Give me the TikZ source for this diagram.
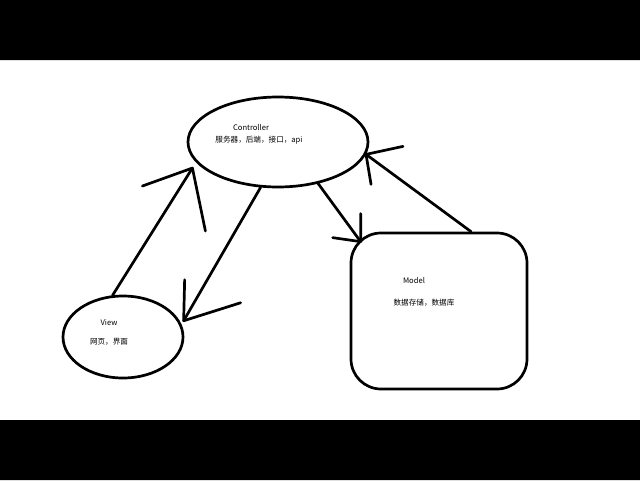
\documentclass[tikz,border=0pt]{standalone}
\usepackage{fontspec}
\setmainfont{Noto Sans CJK SC}
\usetikzlibrary{shapes.geometric}
\begin{document}
\begin{tikzpicture}[x=1pt,y=-1pt,font=\fontsize{7.6}{9}\selectfont, line join=round, line cap=round,
	pen/.style={line width=2.7pt},
	blob/.style={pen,draw,ellipse,inner sep=0pt},
	word/.style={inner sep=0pt}]
	\useasboundingbox (0,0) rectangle (640,480);
	\fill[black] (0,0) rectangle (640,60) (0,420) rectangle (640,480);
	\node[blob,minimum width=180pt,minimum height=90pt] (ctrl) at (278,142) {};
	\node[blob,minimum width=120pt,minimum height=82pt] (view) at (123,337) {};
	\node[pen,draw,rectangle,rounded corners=30pt,minimum width=176pt,minimum height=156pt,inner sep=0pt] (model) at (439,311) {};
	\node[word] (ctrltitle) at (251,128) {Controller};
	\node[word] (ctrltext) at (259,140) {服务器，后端，接口，api};
	\node[word] (viewtitle) at (109,323) {View};
	\node[word] (viewtext) at (109,342) {网页，界面};
	\node[word] (modeltitle) at (414,281) {Model};
	\node[word] (modeltext) at (424,303) {数据存储，数据库};
	% connectors with hand drawn open heads
	\path ([xshift=-10pt]ctrl.199) coordinate (t1)
		([xshift=4pt]view.16) coordinate (t2)
		([shift={(11,10)}]model.north west) coordinate (t3)
		(ctrl.352) coordinate (t4);
	\draw[pen] (view.104)--(t1);
	\draw[pen] (ctrl.249)--(t2);
	\draw[pen] (ctrl.314)--(t3);
	\draw[pen] (model.68)--(t4);
	\foreach \t/\a/\b in {t1/{-50,18}/{13,63},t2/{1,-41}/{57,-18},t3/{0,-28}/{-28,-4},t4/{37,-8}/{5,30}}
	\draw[pen] (\t)--++(\a) (\t)--++(\b);
\end{tikzpicture}
\end{document}
